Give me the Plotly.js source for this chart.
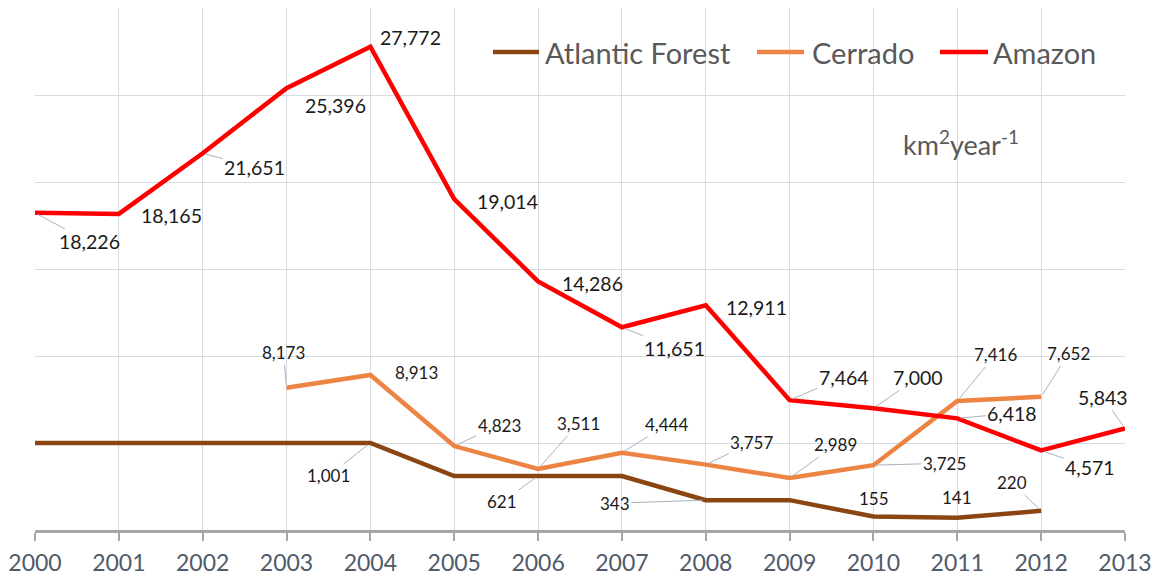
<!DOCTYPE html>
<html>
<head>
<meta charset="utf-8">
<script src="https://cdn.plot.ly/plotly-3.0.1.min.js"></script>
<style>html,body{margin:0;padding:0;background:#fff;}#chart{width:1156px;height:576px;}</style>
</head>
<body>
<div id="chart"></div>
<script>
// ---- data ----
const years = [2000, 2001, 2002, 2003, 2004, 2005, 2006, 2007, 2008, 2009, 2010, 2011, 2012, 2013];
const atlanticForest = [1001, 1001, 1001, 1001, 1001, 621, 621, 621, 343, 343, 155, 141, 220, null];
const cerrado = [null, null, null, 8173, 8913, 4823, 3511, 4444, 3757, 2989, 3725, 7416, 7652, null];
const amazon = [18226, 18165, 21651, 25396, 27772, 19014, 14286, 11651, 12911, 7464, 7000, 6418, 4571, 5843];
// which points carry a data label
const atlanticLabelled = [false, false, false, false, true, false, true, false, true, false, true, true, true, false];
const seriesNames = ['Atlantic Forest', 'Cerrado', 'Amazon'];
const unitText = 'km<sup>2</sup>year<sup>-1</sup>';

// ---- styles ----
const seriesColors = ['#8B4513', '#EC8443', '#FF0000'];
const FONT = 'Lato, "Open Sans", sans-serif';

// ---- label placement (pixel offsets from the point, and whether a leader line is drawn) ----
const amazonLabelPos = [[54,29,1],[53,2,0],[52,14,1],[49,17,0],[40,-9,0],[53,2,0],[54,2,0],[53,21,1],[51,2,0],[54,-23,1],[45,-31,1],[55,-5,1],[49,17,1],[-22,-31,1]];
const cerradoLabelPos = [null,null,null,[-3,-35,1],[46,-2,0],[45,-21,1],[40,-45,1],[45,-28,1],[46,-22,1],[46,-33,1],[71,-2,1],[38,-46,1],[27,-43,1],null];
const atlanticLabelPos = [null,null,null,null,[-42,33,1],null,[-36,26,1],null,[-91,3,1],null,[1,-18,0],[0,-20,0],[-29,-28,1],null];
// legend layout in paper coordinates: [swatch x0, swatch x1, text x]
const legendPos = [[0.4202, 0.4624, 0.4661], [0.6624, 0.7055, 0.7110], [0.8303, 0.8743, 0.8771]];
const legendY = 0.9157;

const fmt = v => v.toLocaleString('en-US');

const annotations = [];
function addLabels(vals, pos, yref, size, flags) {
  vals.forEach((v, i) => {
    if (v === null || !pos[i]) return;
    if (flags && !flags[i]) return;
    const p = pos[i];
    annotations.push({
      x: years[i], y: v, xref: 'x', yref: yref,
      text: fmt(v), showarrow: true, ax: p[0], ay: p[1],
      arrowhead: 0, arrowwidth: 1, standoff: 3,
      arrowcolor: p[2] ? '#A9B2BF' : 'rgba(0,0,0,0)',
      font: {family: FONT, size: size, color: '#1a1a1a'}
    });
  });
}
addLabels(amazon, amazonLabelPos, 'y', 19.5);
addLabels(cerrado, cerradoLabelPos, 'y', 17);
addLabels(atlanticForest, atlanticLabelPos, 'y2', 17, atlanticLabelled);

annotations.push({
  xref: 'paper', yref: 'paper', x: 0.8495, y: 0.7414, xanchor: 'center', yanchor: 'middle',
  text: unitText, showarrow: false,
  font: {family: FONT, size: 27, color: '#595959'}
});

// legend (drawn by hand so the swatches and spacing match)
const shapes = [{
  type: 'rect', xref: 'paper', yref: 'paper', x0: 0.41, x1: 0.985, y0: 0.866, y1: 0.967,
  fillcolor: '#ffffff', line: {width: 0}, layer: 'between'
}];
seriesNames.forEach((name, k) => {
  const p = legendPos[k];
  shapes.push({type: 'line', xref: 'paper', yref: 'paper', x0: p[0], x1: p[1], y0: legendY, y1: legendY,
    line: {color: seriesColors[k], width: 4.5}, layer: 'above'});
  annotations.push({xref: 'paper', yref: 'paper', x: p[2], y: legendY, xanchor: 'left', yanchor: 'middle',
    text: name, showarrow: false, font: {family: FONT, size: 29, color: '#595959'}});
});

const traces = [
  {x: years, y: atlanticForest, name: seriesNames[0], type: 'scatter', mode: 'lines', yaxis: 'y2',
   line: {color: seriesColors[0], width: 4.5}, hoverinfo: 'skip'},
  {x: years, y: cerrado, name: seriesNames[1], type: 'scatter', mode: 'lines',
   line: {color: seriesColors[1], width: 4.5}, hoverinfo: 'skip'},
  {x: years, y: amazon, name: seriesNames[2], type: 'scatter', mode: 'lines',
   line: {color: seriesColors[2], width: 4.5}, hoverinfo: 'skip'}
];

const layout = {
  width: 1156, height: 576,
  margin: {l: 35, r: 31, t: 8, b: 46},
  paper_bgcolor: '#ffffff', plot_bgcolor: '#ffffff',
  showlegend: false,
  xaxis: {
    range: [2000, 2013], tickmode: 'array', tickvals: years, ticktext: years.map(String),
    showgrid: true, gridcolor: '#D6DCE4', gridwidth: 1,
    showline: true, linecolor: '#A6A6A6', linewidth: 2.5,
    ticks: 'outside', ticklen: 8, tickwidth: 2, tickcolor: '#A6A6A6',
    ticklabelstandoff: 3,
    tickfont: {family: FONT, size: 23, color: '#505a68'},
    zeroline: false, fixedrange: true
  },
  yaxis: {
    range: [0, 30000], dtick: 5000, showticklabels: false, ticks: '',
    showgrid: true, gridcolor: '#D6DCE4', gridwidth: 1,
    zeroline: false, showline: false, fixedrange: true
  },
  yaxis2: {
    range: [0, 6000], overlaying: 'y', side: 'right', showgrid: false,
    showticklabels: false, ticks: '', zeroline: false, showline: false, fixedrange: true
  },
  shapes: shapes,
  annotations: annotations
};

Plotly.newPlot('chart', traces, layout, {displayModeBar: false, staticPlot: true});
</script>
</body>
</html>
